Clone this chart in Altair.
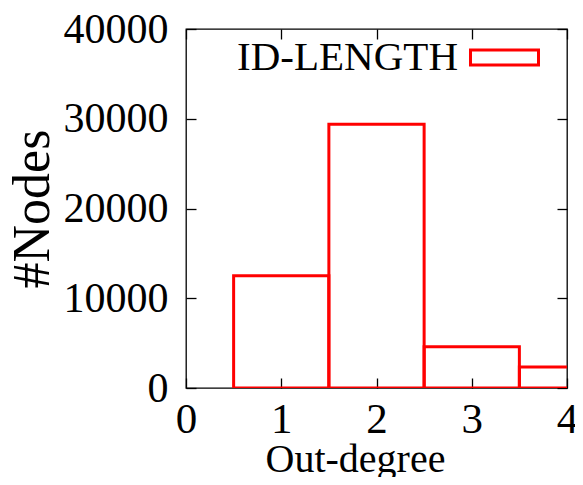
import altair as alt
import pandas as pd

degree = [1, 2, 3, 4]
nodes = [12500, 29400, 4600, 2350]
series = ["ID-LENGTH", "ID-LENGTH", "ID-LENGTH", "ID-LENGTH"]
x_ticks = [0, 1, 2, 3, 4]
y_ticks = [0, 10000, 20000, 30000, 40000]

FONT = "Liberation Serif"
RED = "#ff0000"

df = pd.DataFrame({"degree": degree, "nodes": nodes, "series": series})

xscale = alt.Scale(domain=[0, 4], nice=False, zero=False)
yscale = alt.Scale(domain=[0, 40000], nice=False)

bars = (
    alt.Chart(df)
    .transform_calculate(lo="datum.degree - 0.5", hi="datum.degree + 0.5", base="0")
    .mark_rect(fill="white", fillOpacity=0, strokeWidth=3, clip=True)
    .encode(
        x=alt.X(
            "lo:Q",
            scale=xscale,
            axis=alt.Axis(
                orient="bottom", values=x_ticks, title="Out-degree", offset=-10,
                tickSize=10, domain=False, grid=False, labelPadding=10,
                labelFontSize=43, labelFont=FONT, titleFont=FONT, titleFontSize=40,
                titleFontWeight="normal", titleX=169, titleY=61,
                labelFlush=False, labelOverlap=False, format="d",
            ),
        ),
        x2="hi:Q",
        y=alt.Y(
            "nodes:Q",
            scale=yscale,
            axis=alt.Axis(
                orient="left", values=y_ticks, title="#Nodes", offset=-10,
                tickSize=10, domain=False, grid=False, labelPadding=18,
                labelFontSize=42, labelFont=FONT, titleFont=FONT, titleFontSize=52,
                titleFontWeight="normal", titlePadding=4, titleAngle=270,
                labelFlush=False, labelOverlap=False, format="d",
            ),
        ),
        y2="base:Q",
        stroke=alt.Stroke(
            "series:N",
            scale=alt.Scale(range=[RED]),
            legend=alt.Legend(
                title=None, orient="none", legendX=283, legendY=-7,
                symbolType="M-1,-0.22H1V0.22H-1Z", symbolSize=4624,
                symbolFillColor="white", symbolStrokeWidth=3,
                labelFont=FONT, labelFontSize=41, labelAlign="right",
                labelOffset={"expr": "-82"}, padding=0, labelColor="black", labelLimit=400,
            ),
        ),
    )
)

mirror = (
    alt.Chart(df)
    .mark_point(opacity=0)
    .encode(
        x=alt.X(
            "degree:Q", scale=xscale,
            axis=alt.Axis(orient="top", values=x_ticks, labels=False, title=None,
                          offset=-10, tickSize=10, domain=False, grid=False),
        ),
        y=alt.Y(
            "nodes:Q", scale=yscale,
            axis=alt.Axis(orient="right", values=y_ticks, labels=False, title=None,
                          offset=-10, tickSize=10, domain=False, grid=False),
        ),
    )
)

chart = (
    alt.layer(bars, mirror)
    .resolve_axis(x="independent", y="independent")
    .properties(
        width=381, height=359,
        autosize=alt.AutoSizeParams(type="none"),
        padding={"left": 178, "top": 21, "right": 8, "bottom": 89},
    )
    .configure_view(stroke="black", strokeWidth=1.3)
    .configure_axis(tickColor="black", tickWidth=1.3, labelColor="black", titleColor="black")
)

chart.save("out.html", embed_options={"renderer": "svg", "actions": False})
